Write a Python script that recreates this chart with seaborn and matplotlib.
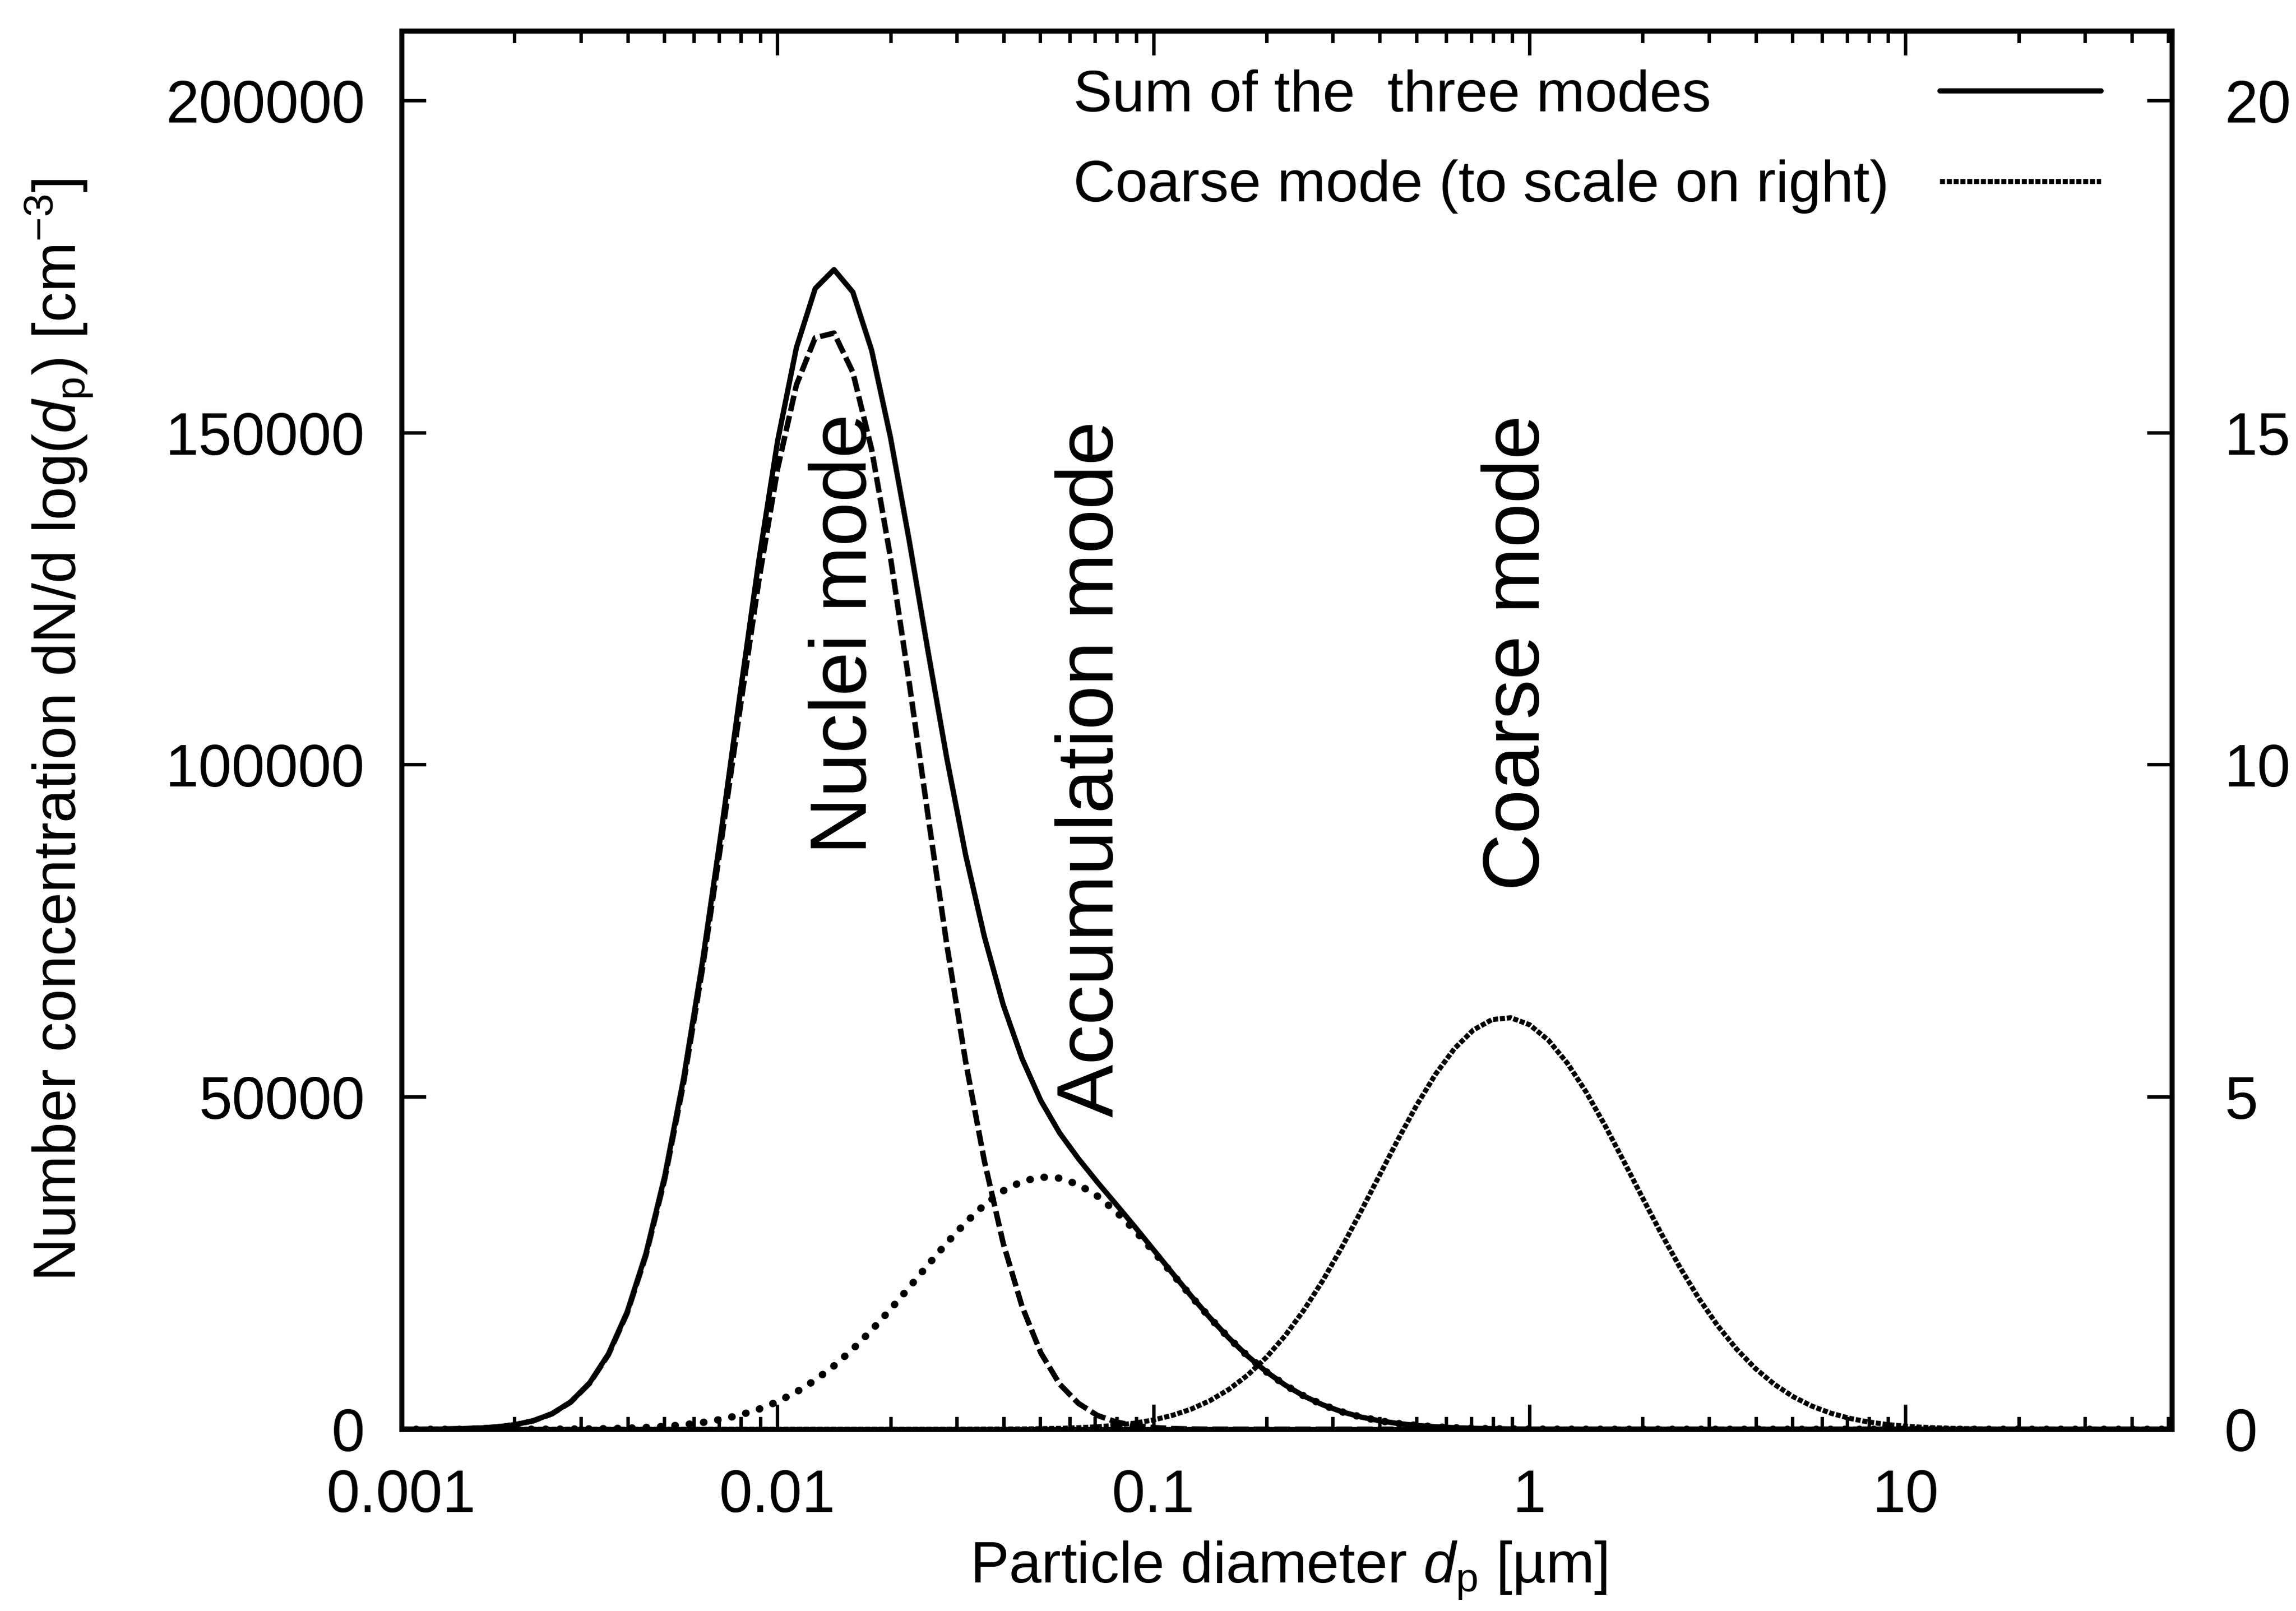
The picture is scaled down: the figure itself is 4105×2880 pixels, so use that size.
import numpy as np
import pandas as pd
import matplotlib
matplotlib.use("Agg")
import matplotlib.pyplot as plt
import seaborn as sns
from matplotlib.lines import Line2D
from matplotlib.ticker import FixedLocator, FixedFormatter, LogLocator, NullFormatter

# ---------------- data ----------------
log10_dp = [
    -3.00, -2.95, -2.90, -2.85, -2.80, -2.75, -2.70, -2.65, -2.60, -2.55,
    -2.50, -2.45, -2.40, -2.35, -2.30, -2.25, -2.20, -2.15, -2.10, -2.05,
    -2.00, -1.95, -1.90, -1.85, -1.80, -1.75, -1.70, -1.65, -1.60, -1.55,
    -1.50, -1.45, -1.40, -1.35, -1.30, -1.25, -1.20, -1.15, -1.10, -1.05,
    -1.00, -0.95, -0.90, -0.85, -0.80, -0.75, -0.70, -0.65, -0.60, -0.55,
    -0.50, -0.45, -0.40, -0.35, -0.30, -0.25, -0.20, -0.15, -0.10, -0.05,
    0.00, 0.05, 0.10, 0.15, 0.20, 0.25, 0.30, 0.35, 0.40, 0.45,
    0.50, 0.55, 0.60, 0.65, 0.70, 0.75, 0.80, 0.85, 0.90, 0.95,
    1.00, 1.05, 1.10, 1.15, 1.20, 1.25, 1.30, 1.35, 1.40, 1.45,
    1.50, 1.55, 1.60, 1.65, 1.70,
]

sum_three_modes = [
    6, 15, 34, 77, 166, 342, 676, 1286, 2351, 4133,
    6979, 11327, 17675, 26481, 38141, 52808, 70277, 89884, 110548, 130724,
    148765, 162813, 171702, 174553, 171170, 162420, 149340, 133760, 117110, 101000,
    86470, 74130, 63890, 55810, 49460, 44600, 40730, 37220, 33870, 30480,
    27000, 23500, 20055, 16775, 13746, 11021, 8650, 6643, 4995, 3677,
    2648, 1865, 1288, 871, 577, 375, 240, 150, 93, 58,
    36, 23, 15, 10, 8, 5, 3, 3, 2, 2,
    2, 1, 1, 1, 0, 0, 0, 0, 0, 0,
    0, 0, 0, 0, 0, 0, 0, 0, 0, 0,
    0, 0, 0, 0, 0,
]

nuclei_mode = [
    6, 15, 34, 76, 164, 338, 669, 1274, 2330, 4095,
    6915, 11220, 17500, 26200, 37700, 52130, 69260, 88390, 108400, 127700,
    144600, 157200, 164300, 165000, 159100, 147500, 131300, 112400, 92370, 72950,
    55360, 40350, 28000, 18500, 11500, 6800, 3900, 2100, 1100, 550,
    260, 110, 45, 15, 5, 0, 0, 0, 0, 0,
    0, 0, 0, 0, 0, 0, 0, 0, 0, 0,
    0, 0, 0, 0, 0, 0, 0, 0, 0, 0,
    0, 0, 0, 0, 0, 0, 0, 0, 0, 0,
    0, 0, 0, 0, 0, 0, 0, 0, 0, 0,
    0, 0, 0, 0, 0,
]

accumulation_mode = [
    0, 0, 0, 1, 2, 4, 7, 12, 21, 38,
    64, 107, 175, 281, 441, 678, 1017, 1494, 2148, 3024,
    4165, 5613, 7402, 9553, 12070, 14920, 18040, 21360, 24740, 28050,
    31110, 33780, 35890, 37310, 37960, 37800, 36830, 35120, 32770, 29930,
    26740, 23390, 20010, 16760, 13740, 11020, 8649, 6642, 4993, 3675,
    2645, 1862, 1284, 867, 572, 370, 234, 144, 87, 52,
    30, 17, 9, 5, 3, 1, 0, 0, 0, 0,
    0, 0, 0, 0, 0, 0, 0, 0, 0, 0,
    0, 0, 0, 0, 0, 0, 0, 0, 0, 0,
    0, 0, 0, 0, 0,
]

coarse_mode_right = [
    0, 0, 0, 0, 0, 0, 0, 0, 0, 0,
    0, 0, 0, 0, 0, 0, 0, 0, 0, 0,
    0, 0, 0, 0, 0, 0, 0, 0, 0, 0,
    0.001, 0.002, 0.003, 0.005, 0.009, 0.014, 0.024, 0.038, 0.060, 0.093,
    0.141, 0.210, 0.304, 0.432, 0.600, 0.815, 1.084, 1.411, 1.798, 2.241,
    2.735, 3.266, 3.816, 4.364, 4.883, 5.347, 5.730, 6.009, 6.167, 6.194,
    6.088, 5.855, 5.512, 5.077, 4.576, 4.037, 3.485, 2.944, 2.434, 1.969,
    1.559, 1.208, 0.916, 0.680, 0.493, 0.350, 0.244, 0.166, 0.111, 0.072,
    0.046, 0.029, 0.018, 0.011, 0.007, 0.004, 0.002, 0.001, 0, 0,
    0, 0, 0, 0, 0,
]

x_ticks = [0.001, 0.01, 0.1, 1, 10]
x_tick_labels = ["0.001", "0.01", "0.1", "1", "10"]
y_ticks = [0, 50000, 100000, 150000, 200000]
y_tick_labels = ["0", "50000", "100000", "150000", "200000"]
y2_ticks = [0, 5, 10, 15, 20]
y2_tick_labels = ["0", "5", "10", "15", "20"]

legend_labels = ["Sum of the  three modes", "Coarse mode (to scale on right)"]
mode_labels = ["Nuclei mode", "Accumulation mode", "Coarse mode"]

x_label = "Particle diameter $d_\\mathrm{p}$ [µm]"
y_label = "Number concentration dN/d log($d_\\mathrm{p}$) [cm$^{-3}$]"

# ---------------- style ----------------
sns.set_theme(style="ticks")
plt.rcParams["font.family"] = ["Liberation Sans", "DejaVu Sans"]
plt.rcParams["mathtext.fontset"] = "custom"
plt.rcParams["mathtext.rm"] = "Liberation Sans"
plt.rcParams["mathtext.it"] = "Liberation Sans:italic"
plt.rcParams["mathtext.bf"] = "Liberation Sans:bold"
plt.rcParams["mathtext.sf"] = "Liberation Sans"
plt.rcParams.update({
    "text.color": "black",
    "axes.labelcolor": "black",
    "xtick.color": "black",
    "ytick.color": "black",
    "axes.edgecolor": "black",
})

FS = 77
LEG_FS = 75
ANN_FS = 102
TICK_W = 4.5
SPINE_W = 6.5

df = pd.DataFrame({
    "dp": 10 ** np.array(log10_dp),
    "sum": sum_three_modes,
    "nuclei": nuclei_mode,
    "accum": accumulation_mode,
    "coarse": coarse_mode_right,
})

fig = plt.figure(figsize=(41.05, 28.8), dpi=100)
ax = fig.add_axes([0.1749, 0.1128, 0.7710, 0.8681])
ax2 = ax.twinx()

sns.lineplot(data=df, x="dp", y="sum", ax=ax, color="black", linewidth=6.8,
             estimator=None, solid_joinstyle="round")
sns.lineplot(data=df, x="dp", y="nuclei", ax=ax, color="black", linewidth=7,
             estimator=None, linestyle=(0, (2.9, 0.9)), dash_capstyle="butt")
sns.lineplot(data=df, x="dp", y="accum", ax=ax, color="black", linewidth=9.5,
             estimator=None, linestyle=(0, (0.05, 1.9)), dash_capstyle="round")
sns.lineplot(data=df, x="dp", y="coarse", ax=ax2, color="black", linewidth=6.5,
             estimator=None, linestyle=(0, (1.0, 0.35)), dash_capstyle="butt")

ax.set_xscale("log")
ax.set_xlim(0.001, 51)
ax.set_ylim(0, 210500)
ax2.set_ylim(0, 21.05)

# x ticks
ax.xaxis.set_major_locator(FixedLocator(x_ticks))
ax.xaxis.set_major_formatter(FixedFormatter(x_tick_labels))
ax.xaxis.set_minor_locator(LogLocator(base=10, subs=np.arange(2, 10), numticks=30))
ax.xaxis.set_minor_formatter(NullFormatter())
ax.tick_params(axis="x", which="both", direction="in", top=True, bottom=True,
               color="black", width=TICK_W)
ax.tick_params(axis="x", which="major", length=32, pad=50, labelsize=FS)
ax.tick_params(axis="x", which="minor", length=16)

# left y ticks
ax.yaxis.set_major_locator(FixedLocator(y_ticks))
ax.yaxis.set_major_formatter(FixedFormatter(y_tick_labels))
ax.tick_params(axis="y", which="major", direction="in", left=True, right=False,
               length=32, width=TICK_W, pad=47, labelsize=FS)
ax.tick_params(axis="y", which="minor", left=False, right=False)

# right y ticks
ax2.yaxis.set_major_locator(FixedLocator(y2_ticks))
ax2.yaxis.set_major_formatter(FixedFormatter(y2_tick_labels))
ax2.tick_params(axis="y", which="major", direction="in", right=True, left=False,
                length=32, width=TICK_W, pad=68, labelsize=FS)
ax2.tick_params(axis="y", which="minor", left=False, right=False)

for a in (ax, ax2):
    for s in a.spines.values():
        s.set_linewidth(SPINE_W)
        s.set_color("black")
        s.set_visible(True)

# labels
ax.set_xlabel(x_label, fontsize=75)
ax.xaxis.set_label_coords(0.501, -0.079)
ax.set_ylabel(y_label, fontsize=FS)
ax.yaxis.set_label_coords(-0.173, 0.5)
ax2.set_ylabel("")

# mode annotations
mode_label_x = [0.01515, 0.0688, 0.933]
mode_label_y = [86600, 47000, 81100]
for lab, xx, yy in zip(mode_labels, mode_label_x, mode_label_y):
    ax.text(xx, yy, lab, rotation=90, ha="center", va="bottom",
            fontsize=ANN_FS, color="black")

# legend: texts left-aligned, line samples right-aligned at the right
LEG_Y = 0.9726
LEG_SPACING = 0.62
blank = [Line2D([], [], linestyle="none"), Line2D([], [], linestyle="none")]
leg_text = ax2.legend(blank, legend_labels, loc="upper left",
                      bbox_to_anchor=(0.3795, LEG_Y), frameon=False,
                      fontsize=LEG_FS, handlelength=0, handletextpad=0,
                      labelspacing=LEG_SPACING, borderpad=0, borderaxespad=0)
ax2.add_artist(leg_text)

h_sum = ax.lines[0]
h_coarse = ax2.lines[0]
ax2.legend([h_sum, h_coarse], [" ", " "], loc="upper right",
           bbox_to_anchor=(0.960, LEG_Y), markerfirst=False, frameon=False,
           fontsize=LEG_FS, handlelength=2.77, handletextpad=0,
           labelspacing=LEG_SPACING, borderpad=0, borderaxespad=0)

fig.savefig("out.png", dpi=100)
